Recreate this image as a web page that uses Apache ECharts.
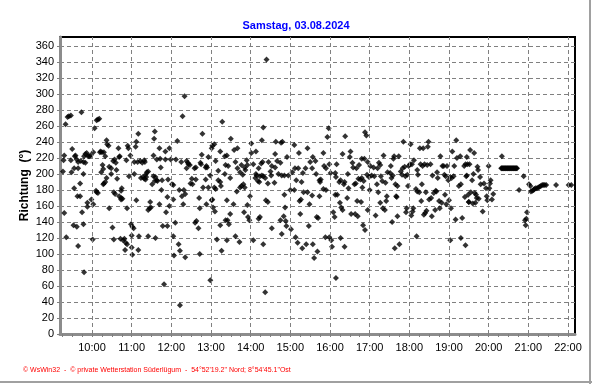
<!DOCTYPE html>
<html><head><meta charset="utf-8">
<script src="https://cdn.jsdelivr.net/npm/echarts@6/dist/echarts.min.js"></script>
<style>html,body{margin:0;padding:0;background:#fff}#c{width:592px;height:384px}</style>
</head><body><div id="c"></div>
<script>
const titleText = 'Samstag, 03.08.2024';
const footerText = '\u00a9 WsWin32  -  \u00a9 private Wetterstation S\u00fcderl\u00fcgum  -  54\u00b052\'19.2" Nord; 8\u00b054\'45.1"Ost';
const yAxisName = 'Richtung  (\u00b0)';
const hourTicks = [10,11,12,13,14,15,16,17,18,19,20,21,22];

// wind direction readings [time, degrees]
const block0912 = [
['9:23',271],['9:25',272],['9:28',273],['9:44',277],['9:20',262],['10:07',267],['10:09',268],['10:11',269],['10:04',257],['11:10',250],['11:35',253],['11:34',244],['10:22',242],['10:23',237],['10:25',235],['10:40',232],['10:54',235],['10:55',232],['11:06',234],['11:07',240],['11:42',232],['9:30',231],['9:18',223],['9:35',223],['9:34',222],['9:48',222],['9:50',225],['9:52',226],['9:54',222],['9:56',222],['9:58',223],['10:02',227],['10:12',227],['10:13',228],['10:15',227],['10:18',227],['10:20',222],['10:41',221],['10:42',222],['10:58',223],['11:13',216],['11:16',214],['11:19',217],['11:20',215],['11:33',223],['11:38',218],['9:17',217],['9:28',217],['9:37',218],['9:39',215],['9:43',216],['9:47',215],['9:50',214],['10:32',216],['10:34',218],['10:36',214],['10:52',217],['11:04',215],['11:09',215],['10:16',211],['10:17',206],['10:26',209],['10:29',207],['10:37',205],['9:16',203],['9:29',202],['9:33',207],['9:39',207],['9:47',200],['10:14',202],['10:29',200],['10:56',197],['11:04',200],['11:21',199],['11:23',202],['11:25',203],['11:14',195],['11:17',196],['11:19',194],['11:21',193],['11:22',196],['11:31',187],['11:33',197],['11:35',191],['11:36',196],['11:38',192],['11:39',191],['11:44',208],['11:46',192],['10:17',187],['10:18',188],['10:20',190],['10:22',195],['10:38',194],['9:42',188],['9:33',182],['10:06',179],['10:07',177],['10:09',176],['10:44',179],['10:45',182],['10:33',177],['10:35',175],['10:41',172],['10:44',170],['10:44',168],['10:46',169],['11:45',180],['9:38',172],['9:42',172],['11:42',162],['11:28',165],['9:59',168],['10:02',162],['9:53',164],['9:53',159],['11:07',167],['10:26',157],['10:53',157],['9:18',151],['9:45',152],['11:25',155],['11:27',157],['11:29',158],['10:59',137],['11:01',134],['11:03',132],['9:32',136],['9:37',134],['9:47',137],['10:31',133],['9:21',121],['10:01',118],['10:33',118],['10:43',119],['10:47',117],['10:49',119],['10:51',114],['10:53',112],['11:11',122],['11:25',122],['11:36',120],['11:00',123],['9:39',110],['10:50',105],['11:00',108],['11:01',99],['11:10',105],['9:48',77]
];
const block1214 = [
['12:20',297],['12:17',272],['13:17',265],['12:47',250],['14:19',258],['12:09',241],['13:30',244],['14:01',238],['14:17',242],['11:51',228],['11:57',232],['13:01',232],['13:02',235],['13:05',237],['13:14',228],['13:35',230],['13:40',232],['14:01',226],['14:08',228],['11:43',219],['11:51',218],['11:59',218],['12:07',218],['12:15',215],['12:23',216],['12:25',214],['12:26',212],['12:28',211],['12:23',207],['12:35',207],['12:37',208],['12:46',224],['12:44',214],['12:45',212],['12:56',221],['12:52',208],['12:53',210],['12:54',208],['13:07',216],['13:11',204],['13:21',222],['13:24',223],['13:22',211],['13:26',210],['13:21',200],['13:29',195],['13:37',215],['13:40',207],['13:46',211],['13:44',202],['13:48',199],['13:51',208],['13:55',211],['13:54',217],['13:52',205],['14:04',212],['14:12',207],['14:16',213],['14:18',215],['14:07',195],['14:08',200],['14:09',198],['14:11',191],['14:13',190],['14:14',197],['14:17',198],['14:19',197],['14:22',195],['11:55',193],['12:01',187],['12:03',186],['11:54',171],['11:57',160],['11:52',152],['11:47',135],['11:54',135],['12:03',168],['12:12',180],['12:19',180],['12:16',172],['12:21',175],['12:18',162],['12:29',188],['12:32',187],['12:31',194],['12:37',193],['12:42',170],['12:43',157],['12:48',183],['12:52',193],['12:56',183],['12:59',198],['13:02',168],['13:05',183],['13:07',181],['13:11',192],['13:14',190],['13:15',185],['13:24',167],['13:34',162],['13:39',178],['13:44',183],['13:46',185],['13:49',187],['13:51',183],['13:55',161],['13:59',172],['13:50',152],['13:56',146],['13:58',142],['14:12',144],['14:14',146],['12:53',162],['13:01',167],['13:03',158],['13:06',153],['13:29',150],['13:14',136],['13:22',142],['13:25',142],['13:27',137],['12:06',139],['12:36',139],['12:38',141],['12:41',132],['12:03',122],['12:11',112],['12:13',104],['12:21',96],['12:04',98],['12:43',100],['13:09',118],['13:16',104],['13:24',117],['13:37',122],['13:43',115],['14:04',117],['14:19',112],['11:49',62],['12:59',67],['12:13',36],['14:22',52]
];
const block1417 = [
['14:24',343],['15:56',246],['15:58',257],['16:23',247],['16:53',252],['16:55',248],['14:38',240],['14:46',239],['14:48',240],['15:06',236],['15:26',232],['14:37',225],['14:55',221],['15:13',226],['15:34',221],['15:38',216],['15:50',226],['16:19',225],['16:31',228],['16:30',221],['16:34',214],['16:48',219],['16:52',219],['14:27',215],['14:32',210],['14:40',216],['14:45',214],['14:37',208],['14:30',203],['14:31',198],['14:42',200],['14:47',198],['14:26',188],['14:36',189],['14:51',198],['14:57',198],['15:03',202],['15:07',207],['15:12',207],['15:19',201],['15:23',207],['15:09',192],['15:17',190],['15:30',215],['15:33',207],['15:39',200],['15:44',192],['15:46',193],['15:45',190],['15:51',210],['15:54',207],['15:59',212],['16:01',201],['16:08',201],['16:10',212],['16:09',196],['16:14',190],['16:16',192],['16:21',187],['16:22',190],['16:27',200],['16:28',182],['16:35',208],['16:40',207],['16:44',211],['16:48',195],['16:43',194],['16:46',193],['16:39',188],['16:37',187],['16:51',191],['16:49',183],['15:00',180],['15:06',180],['15:20',177],['15:26',177],['15:33',173],['15:44',172],['15:50',181],['15:54',180],['14:51',174],['14:52',158],['14:23',167],['14:26',165],['14:45',142],['14:50',147],['14:53',141],['14:54',135],['14:32',132],['14:47',125],['15:14',166],['15:16',168],['15:15',150],['15:29',162],['15:28',135],['15:40',146],['15:42',145],['15:01',131],['15:08',121],['15:11',114],['15:18',107],['15:24',112],['15:34',112],['15:41',103],['15:36',95],['15:53',121],['15:59',121],['16:02',117],['16:03',109],['16:05',152],['16:07',146],['16:08',174],['16:11',174],['16:15',164],['16:17',158],['16:19',155],['16:16',120],['16:22',109],['16:26',170],['16:32',150],['16:38',150],['16:42',147],['16:41',166],['16:47',165],['16:50',136],['16:53',130],['16:09',70]
];
const block1719 = [
['17:51',240],['18:02',237],['18:29',240],['18:28',234],['18:16',232],['18:21',232],['19:11',242],['19:05',228],['18:47',222],['17:21',223],['17:37',222],['17:44',222],['17:36',219],['17:32',210],['18:07',217],['18:01',212],['17:59',210],['16:57',215],['17:01',210],['17:06',208],['17:12',207],['17:14',214],['17:16',211],['16:56',199],['17:03',198],['16:59',196],['17:07',197],['17:11',187],['17:17',197],['17:19',191],['17:24',189],['17:27',202],['17:31',201],['17:33',195],['17:35',198],['17:39',187],['17:42',185],['17:47',203],['17:49',199],['17:50',207],['17:53',209],['17:54',197],['17:57',199],['17:58',185],['18:04',212],['18:12',205],['18:13',199],['18:17',212],['18:20',210],['18:23',212],['18:27',211],['18:32',212],['18:10',181],['18:12',178],['18:15',177],['18:19',187],['18:18',166],['18:25',177],['18:30',168],['18:33',170],['18:37',176],['18:40',179],['18:42',202],['18:35',198],['18:43',195],['18:50',210],['18:52',210],['18:57',210],['18:53',199],['18:55',197],['18:59',192],['19:02',196],['19:04',195],['19:07',197],['19:15',185],['19:18',187],['19:08',210],['19:12',220],['19:17',222],['19:23',210],['19:25',212],['19:28',212],['19:27',198],['17:00',180],['17:13',177],['17:16',164],['17:26',172],['17:25',166],['17:20',157],['17:23',155],['16:57',155],['17:09',148],['17:34',140],['17:40',172],['17:41',171],['17:42',147],['17:55',152],['17:56',157],['18:03',148],['18:05',153],['18:06',157],['18:11',122],['18:22',149],['18:24',151],['18:26',154],['18:34',147],['18:39',155],['18:41',178],['18:46',157],['18:45',166],['18:49',164],['18:54',174],['18:56',162],['19:00',167],['19:03',157],['19:10',143],['19:18',120],['19:20',145],['19:25',111],['19:24',171],['19:29',174],['19:30',165],['17:38',107],['17:45',112],['19:02',117]
];
const block1922 = [
['19:32',230],['19:38',226],['19:27',221],['19:31',212],['19:26',197],['19:37',200],['19:35',192],['19:43',209],['19:44',205],['19:47',196],['19:48',187],['20:00',210],['20:03',192],['20:02',188],['19:53',188],['19:56',182],['20:01',182],['19:57',172],['19:58',167],['20:05',168],['20:07',175],['19:51',153],['19:33',177],['19:39',176],['19:41',174],['19:42',170],['19:45',169],['19:30',165],['19:36',163],['19:40',164],['20:20',222],
['20:19',207],['20:20',207],['20:21',207],['20:22',207],['20:23',207],['20:24',207],['20:25',207],['20:26',207],['20:27',207],['20:28',207],['20:29',207],['20:30',207],['20:31',207],['20:32',207],['20:33',207],['20:34',207],['20:35',207],['20:36',207],['20:37',207],['20:38',207],['20:39',207],['20:40',207],['20:41',207],['20:42',207],['20:43',207],
['20:53',197],['20:46',180],['21:01',187],['20:58',152],['20:55',142],['20:57',144],['20:56',136],['21:03',185],['21:04',178],['21:06',179],['21:08',180],['21:09',181],['21:11',182],['21:13',182],['21:15',183],['21:17',184],['21:19',185],['21:21',186],['21:23',186],['21:25',186],['21:27',186],['21:42',186],['22:01',186],['22:05',186]
];

function toHours(s){ const p = s.split(':'); return +p[0] + (+p[1])/60; }
const points = [].concat(block0912, block1214, block1417, block1719, block1922).map(r => [toHours(r[0]), r[1]]);
const quarterTicks = [];
for (let q = 37; q <= 88; q++) quarterTicks.push(q / 4);

const font = 'Liberation Sans, Arial, sans-serif';
const chart = echarts.init(document.getElementById('c'), null, {renderer: 'canvas'});
chart.setOption({
  animation: false,
  backgroundColor: '#ffffff',
  title: [
    {text: titleText, left: 'center', top: 15, textStyle: {color: '#0000ff', fontSize: 11, fontWeight: 'bold', fontFamily: font}},
    {text: footerText, left: 18, top: 362, textStyle: {color: '#ff0000', fontSize: 7, fontWeight: 'normal', fontFamily: font}}
  ],
  grid: {left: 60, right: 17, top: 37, bottom: 50, show: true, borderColor: '#000', borderWidth: 2, backgroundColor: '#fff'},
  xAxis: {
    type: 'value', min: 9.193, max: 22.177,
    axisLine: {lineStyle: {color: '#8c8c8c', width: 3}},
    axisTick: {show: true, customValues: quarterTicks, length: 3, lineStyle: {color: '#808080'}},
    axisLabel: {customValues: hourTicks, formatter: v => Math.round(v) + ':00', color: '#000', fontSize: 11, margin: 8, fontFamily: font},
    splitLine: {show: false}
  },
  yAxis: {
    type: 'value', min: 0, max: 371, interval: 20,
    name: yAxisName, nameLocation: 'middle', nameGap: 29, nameMoveOverlap: false,
    nameTextStyle: {fontWeight: 'bold', fontSize: 12, color: '#000', fontFamily: font},
    axisLine: {show: true, lineStyle: {color: '#8c8c8c', width: 3}},
    axisTick: {show: true, length: 3, lineStyle: {color: '#808080'}},
    axisLabel: {showMaxLabel: false, margin: 6, fontSize: 11, color: '#000', fontFamily: font},
    splitLine: {show: true, showMaxLine: false, showMinLine: false, lineStyle: {type: [4, 3], color: '#808080', width: 1}}
  },
  series: [{
    type: 'scatter', data: points, symbol: 'diamond', symbolSize: [6, 6],
    itemStyle: {color: '#000'}, silent: true,
    markLine: {silent: true, symbol: 'none', label: {show: false}, animation: false,
      lineStyle: {type: [4, 3], color: '#808080', width: 1},
      data: hourTicks.map(h => ({xAxis: h}))}
  }],
  graphic: [
    {type: 'line', shape: {x1: 590, y1: 0, x2: 590, y2: 384}, style: {stroke: '#a0a0a0', lineWidth: 2}},
    {type: 'line', shape: {x1: 0, y1: 382, x2: 592, y2: 382}, style: {stroke: '#a0a0a0', lineWidth: 2}}
  ]
});
</script></body></html>
